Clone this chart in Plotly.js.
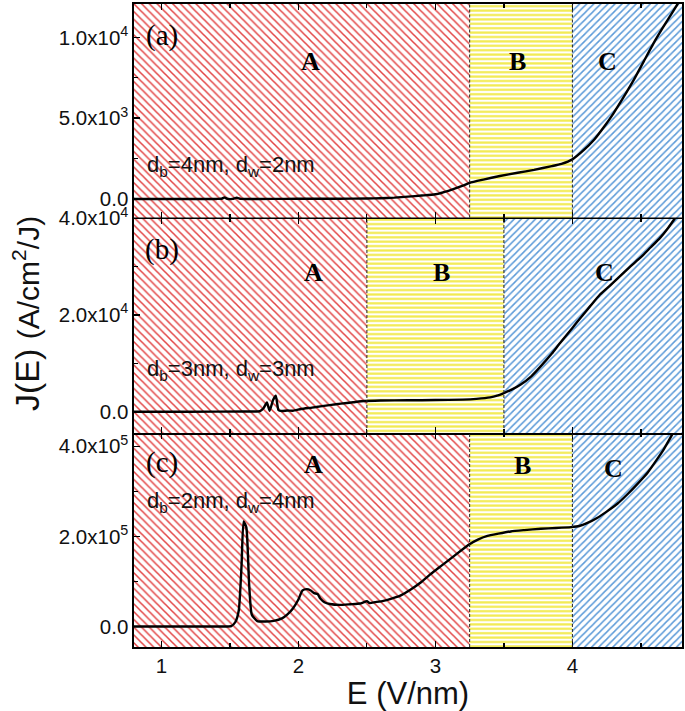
<!DOCTYPE html>
<html><head><meta charset="utf-8">
<script src="https://cdn.plot.ly/plotly-3.0.1.min.js"></script>
<style>html,body{margin:0;padding:0;background:#fff}</style>
</head><body><div id="chart" style="width:685px;height:711px"></div>
<script>
// ---- data: panel (a) d_b=4nm, d_w=2nm
const E_a = [0.80,1.00,1.20,1.40,1.44,1.46,1.48,1.52,1.55,1.58,1.70,1.90,2.10,2.30,2.50,2.60,2.70,2.80,2.90,3.00,3.10,3.20,3.25,3.35,3.47,3.60,3.72,3.85,3.92,4.00,4.08,4.16,4.23,4.30,4.37,4.45,4.52,4.59,4.66,4.73,4.77];
const J_a = [0,0,0,0,10,90,10,0,70,0,0,5,10,15,25,45,80,140,210,290,520,820,1000,1200,1420,1620,1800,2030,2170,2450,3000,3680,4450,5300,6250,7400,8500,9600,10600,11550,12100];
// ---- panel (b) d_b=3nm, d_w=3nm
const E_b = [0.80,1.20,1.60,1.72,1.745,1.77,1.79,1.815,1.835,1.855,1.88,1.92,1.96,2.02,2.10,2.16,2.24,2.31,2.40,2.48,2.60,2.80,3.00,3.20,3.30,3.40,3.45,3.50,3.56,3.62,3.70,3.77,3.85,3.91,4.00,4.06,4.13,4.20,4.28,4.35,4.42,4.50,4.57,4.64,4.70,4.75];
const J_b = [0,0,30,120,700,1900,200,2400,3300,300,150,250,200,550,850,1100,1400,1660,1950,2200,2300,2350,2400,2500,2650,2950,3300,3850,4600,5550,7300,9400,12000,14200,17300,19400,21800,24150,26200,28050,29900,31900,33900,35900,38000,40000];
// ---- panel (c) d_b=2nm, d_w=4nm
const E_c = [0.80,1.20,1.45,1.51,1.54,1.565,1.585,1.60,1.62,1.64,1.66,1.70,1.76,1.82,1.88,1.92,1.96,2.00,2.03,2.06,2.09,2.115,2.14,2.16,2.19,2.23,2.30,2.38,2.45,2.50,2.52,2.56,2.62,2.68,2.74,2.82,2.89,2.96,3.04,3.13,3.24,3.31,3.38,3.46,3.55,3.65,3.77,3.88,3.99,4.05,4.11,4.18,4.25,4.33,4.40,4.47,4.55,4.62,4.67,4.73];
const J_c = [0,0,0,1000,10000,36000,135000,233000,220000,96000,26000,12000,11000,12500,18000,27000,40000,60000,80000,83000,80000,74000,72000,62000,54000,50000,48000,49500,51000,56000,52000,54000,57000,62000,68000,82000,97000,115000,134000,155000,181000,193000,201000,206000,211000,214000,217000,218500,220500,223000,230000,241000,255000,273000,293000,315000,342000,372000,395000,427000];

// ---- region boundaries (A | B | C)
const bounds_a = [0.8, 3.25, 4.0, 4.8];
const bounds_b = [0.8, 2.5, 3.5, 4.8];
const bounds_c = [0.8, 3.25, 4.0, 4.8];
const regionNames = ['A','B','C'];
const panelLabels = ['(a)','(b)','(c)'];
const panelNotes = ['d<sub>b</sub>=4nm, d<sub>w</sub>=2nm','d<sub>b</sub>=3nm, d<sub>w</sub>=3nm','d<sub>b</sub>=2nm, d<sub>w</sub>=4nm'];

// ---- ticks
const xTickVals = [1,2,3,4];
const yTickVals_a = [0,5000,10000];
const yTickText_a = ['0.0','5.0x10<sup>3</sup>','1.0x10<sup>4</sup>'];
const yMinor_a = [2500,7500];
const yTickVals_b = [0,20000,40000];
const yTickText_b = ['0.0','2.0x10<sup>4</sup>','4.0x10<sup>4</sup>'];
const yMinor_b = [10000,30000];
const yTickVals_c = [0,200000,400000];
const yTickText_c = ['0.0','2.0x10<sup>5</sup>','4.0x10<sup>5</sup>'];
const yMinor_c = [100000,300000];

// ---- layout geometry
const W=685,H=711,L=134,R=682,T=4,B=647;
const px2x = p => (p-L)/(R-L);
const py2y = p => (B-p)/(B-T);
const dom_c=[0,py2y(433)], dom_b=[py2y(433),py2y(217.5)], dom_a=[py2y(217.5),1];
const range_a=[-1150,12070], range_b=[-4400,40100], range_c=[-45500,429500];

const patterns = [
  {shape:'\\', fgcolor:'#e24444', bgcolor:'#ffffff', size:5.5, solidity:0.28},
  {shape:'-',  fgcolor:'#f2ea50', bgcolor:'#ffffff', size:4.4, solidity:0.5},
  {shape:'/',  fgcolor:'#5b9ad8', bgcolor:'#ffffff', size:5, solidity:0.3}
];

const traces=[];
function regions(bounds, xa, ya, rng){
  for(let i=0;i<3;i++){
    const x0=bounds[i], x1=bounds[i+1], lo=rng[0]*3-1, hi=rng[1]*3;
    traces.push({type:'scatter',mode:'lines',x:[x0,x1,x1,x0,x0],y:[lo,lo,hi,hi,lo],
      xaxis:xa,yaxis:ya,fill:'toself',fillcolor:'#ffffff',fillpattern:patterns[i],
      line:{width:0},hoverinfo:'skip',showlegend:false});
  }
}
regions(bounds_a,'x3','y3',range_a);
regions(bounds_b,'x2','y2',range_b);
regions(bounds_c,'x','y',range_c);

const curveStyle={color:'#000',width:2.4,shape:'spline',smoothing:0.5};
traces.push({type:'scatter',mode:'lines',x:E_a,y:J_a,xaxis:'x3',yaxis:'y3',line:curveStyle,showlegend:false});
traces.push({type:'scatter',mode:'lines',x:E_b,y:J_b,xaxis:'x2',yaxis:'y2',line:curveStyle,showlegend:false});
traces.push({type:'scatter',mode:'lines',x:E_c,y:J_c,xaxis:'x',yaxis:'y',line:curveStyle,showlegend:false});

const shapes=[];
[[bounds_a,'x3','y3'],[bounds_b,'x2','y2'],[bounds_c,'x','y']].forEach(([b,xa,ya])=>{
  [b[1],b[2]].forEach(v=>shapes.push({type:'line',xref:xa,yref:ya+' domain',x0:v,x1:v,y0:0,y1:1,
    line:{color:'#222',width:1,dash:'3px,2px'},layer:'above'}));
});

const tickFont={family:'Liberation Sans, Arial, sans-serif',size:20.5,color:'#111'};
function xax(anchor,labels,extra){
  return Object.assign({anchor:anchor,range:[0.8,4.8],tickmode:'array',tickvals:xTickVals,
    ticks:'inside',ticklen:6,tickwidth:1.5,tickcolor:'#000',showticklabels:labels,tickfont:tickFont,
    minor:{ticks:'inside',ticklen:4,tickwidth:1.2,tickcolor:'#000',tickmode:'linear',tick0:0.5,dtick:1},
    showline:true,linecolor:'#000',linewidth:1.6,mirror:'ticks',showgrid:false,zeroline:false,fixedrange:true},extra||{});
}
function yax(anchor,dom,rng,tv,tt,mv){
  return {anchor:anchor,domain:dom,range:rng,tickmode:'array',tickvals:tv,ticktext:tt,
    ticks:'inside',ticklen:6,tickwidth:1.5,tickcolor:'#000',tickfont:tickFont,
    minor:{ticks:'inside',ticklen:4,tickwidth:1.2,tickcolor:'#000',tickmode:'array',tickvals:mv},
    showline:true,linecolor:'#000',linewidth:1.6,mirror:true,showgrid:false,zeroline:false,fixedrange:true};
}

const serifFont=(s,bold)=>({family:'Liberation Serif, Times New Roman, serif',size:s,color:'#000',weight:bold?'bold':'normal'});
const sansFont={family:'Liberation Sans, Arial, sans-serif',size:22,color:'#111'};
const annotations=[];
function ann(px,py,text,font,extra){
  annotations.push(Object.assign({xref:'paper',yref:'paper',x:px2x(px),y:py2y(py),text:text,font:font,
    showarrow:false,xanchor:'center',yanchor:'middle'},extra||{}));
}
const labelPos=[[162,35],[162,250],[162,463]];
panelLabels.forEach((t,i)=>ann(labelPos[i][0],labelPos[i][1],t,serifFont(29,false)));
const letterPos=[[[310,62],[517,62],[607,62]],[[313,272],[441,272],[604,272]],[[313,464],[522,465],[613,468]]];
letterPos.forEach(row=>row.forEach((p,j)=>ann(p[0],p[1],'<b>'+regionNames[j]+'</b>',serifFont(26,true))));
const notePos=[[145,166],[145,370],[145,502]];
panelNotes.forEach((t,i)=>ann(notePos[i][0],notePos[i][1],t,sansFont,{xanchor:'left'}));
// y axis title
ann(26,314,"J(E) <span style='font-size:30px'>(A/cm<sup>2</sup>/J)</span>",{family:'Liberation Sans, Arial, sans-serif',size:34,color:'#111'},{textangle:-90});

const layout={
  width:W,height:H,margin:{l:L,r:W-R,t:T,b:H-B},
  paper_bgcolor:'#fff',plot_bgcolor:'#fff',showlegend:false,
  font:{family:'Liberation Sans, Arial, sans-serif',color:'#111'},
  xaxis:xax('y',true,{title:{text:'E (V/nm)',font:{family:'Liberation Sans, Arial, sans-serif',size:31,color:'#111'},standoff:3}}),
  xaxis2:xax('y2',false,{matches:'x'}),
  xaxis3:xax('y3',false,{matches:'x'}),
  yaxis:yax('x',dom_c,range_c,yTickVals_c,yTickText_c,yMinor_c),
  yaxis2:yax('x2',dom_b,range_b,yTickVals_b,yTickText_b,yMinor_b),
  yaxis3:yax('x3',dom_a,range_a,yTickVals_a,yTickText_a,yMinor_a),
  shapes:shapes,annotations:annotations
};
Plotly.newPlot('chart',traces,layout,{displayModeBar:false,staticPlot:true});
</script></body></html>
